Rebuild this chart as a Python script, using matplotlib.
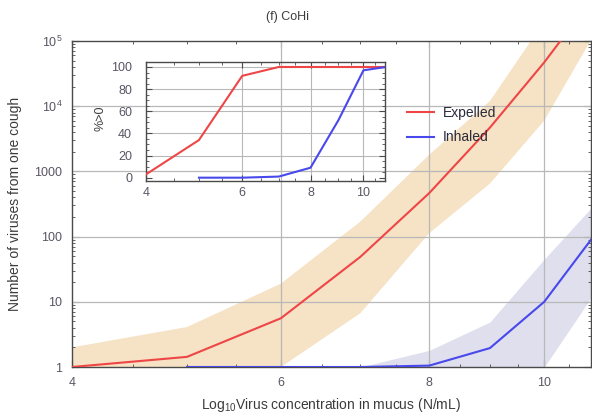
import matplotlib
matplotlib.use("Agg")
import matplotlib.pyplot as plt
import matplotlib.ticker as mticker
from matplotlib.lines import Line2D

plt.rcParams["font.family"] = ["Liberation Sans", "DejaVu Sans"]
plt.rcParams["mathtext.default"] = "regular"

# ── data ────────────────────────────────────────────────────────────────────
conc = [4, 5, 6, 7, 8, 9, 10, 11]
expelled = [1.0, 1.43, 5.6, 49, 465, 4700, 47000, 470000]
expelled_hi = [2.0, 4.1, 19, 170, 1800, 12000, 200000, 2000000]
expelled_lo = [0.5, 0.7, 1.0, 6.7, 113, 650, 6000, 120000]

conc_inh = [5, 6, 7, 8, 9, 10, 11]
inhaled = [1.0, 1.0, 1.0, 1.05, 1.95, 10, 100]
band_inh_x = [7, 8, 9, 10, 11]
inhaled_hi = [1.0, 1.8, 4.9, 45, 300]
inhaled_lo = [1.0, 1.0, 1.0, 1.0, 13]

pct_exp = [3, 34, 92, 100, 100, 100, 100, 100]
pct_inh = [0, 0, 1, 9, 52, 97, 100]

W, H = 592, 415
RED = "#ee4646"
BLUE = "#4848ec"
FRAME = "#4a4a4a"
TICKCOL = "#5a5563"
TEXTCOL = "#3c3c3c"
GRID = "#b8b8b8"


def px_axes(fig, left, top, right, bottom):
    return fig.add_axes([left / W, 1 - bottom / H, (right - left) / W, (bottom - top) / H])


fig = plt.figure(figsize=(W / 100, H / 100), dpi=100)

# ── main panel ──────────────────────────────────────────────────────────────
ax = px_axes(fig, 72, 41, 591, 367)
ax.set_xscale("log")
ax.set_yscale("log")
ax.set_xlim(4, 10.95)
ax.set_ylim(1, 1e5)

ax.fill_between(conc, expelled_lo, expelled_hi, color="#f6e2c4", lw=0, zorder=1)
ax.fill_between(band_inh_x, inhaled_lo, inhaled_hi, color="#dfdfee", lw=0, zorder=1)
ax.plot(conc, expelled, color=RED, lw=1.5, zorder=3)
ax.plot(conc_inh, inhaled, color=BLUE, lw=1.5, zorder=3)

ax.xaxis.set_major_locator(mticker.FixedLocator([4, 6, 8, 10]))
ax.xaxis.set_major_formatter(mticker.FixedFormatter(["4", "6", "8", "10"]))
ax.xaxis.set_minor_locator(mticker.FixedLocator([4.5, 5, 5.5, 6.5, 7, 7.5, 8.5, 9, 9.5, 10.5]))
ax.xaxis.set_minor_formatter(mticker.NullFormatter())
ax.yaxis.set_major_locator(mticker.FixedLocator([1, 10, 100, 1000, 1e4, 1e5]))
ax.yaxis.set_major_formatter(mticker.FixedFormatter(["1", "10", "100", "1000", "$10^4$", "$10^5$"]))
ax.yaxis.set_minor_locator(mticker.LogLocator(base=10, subs=range(2, 10), numticks=20))
ax.yaxis.set_minor_formatter(mticker.NullFormatter())

ax.tick_params(which="both", direction="in", top=True, right=True, colors=FRAME,
               labelcolor=TICKCOL, labelsize=9)
ax.tick_params(which="major", length=5, width=0.8)
ax.tick_params(which="minor", length=2.5, width=0.6)
ax.tick_params(axis="x", pad=7)
ax.tick_params(axis="y", pad=7)
for s in ax.spines.values():
    s.set_color(FRAME)
    s.set_linewidth(1.0)

for gx in [6, 8, 10]:
    ax.axvline(gx, color=GRID, lw=0.9, zorder=2)
for gy in [10, 100, 1000, 1e4]:
    ax.axhline(gy, color=GRID, lw=0.9, zorder=2)

ax.set_xlabel("Log$_{10}$Virus concentration in mucus (N/mL)", color=TEXTCOL,
              fontsize=10, labelpad=5)
ax.set_ylabel("Number of viruses from one cough", color=TEXTCOL, fontsize=10, labelpad=9)

handles = [Line2D([], [], color=RED, lw=1.5), Line2D([], [], color=BLUE, lw=1.5)]
ax.legend(handles, ["Expelled", "Inhaled"], loc="upper left",
          bbox_to_anchor=(407 / W, 1 - 106 / H), bbox_transform=fig.transFigure,
          frameon=False, fontsize=10, handlelength=1.95, handletextpad=0.65,
          labelspacing=0.75, borderpad=0, borderaxespad=0,
          labelcolor="#2a2a3a")

fig.text(287 / W, 1 - 17 / H, "(f) CoHi", ha="center", va="center",
         fontsize=9, color=TEXTCOL)

# ── inset: share of coughs with a non-zero count ────────────────────────────
ins = px_axes(fig, 146, 62, 385, 181)
ins.patch.set_alpha(0)
ins.set_xscale("log")
ins.set_xlim(4, 10.95)
ins.set_ylim(-3, 104.5)
ins.plot(conc, pct_exp, color=RED, lw=1.5, zorder=3)
ins.plot(conc_inh, pct_inh, color=BLUE, lw=1.5, zorder=3)

ins.xaxis.set_major_locator(mticker.FixedLocator([4, 6, 8, 10]))
ins.xaxis.set_major_formatter(mticker.FixedFormatter(["4", "6", "8", "10"]))
ins.xaxis.set_minor_locator(mticker.FixedLocator([4.5, 5, 5.5, 6.5, 7, 7.5, 8.5, 9, 9.5, 10.5]))
ins.xaxis.set_minor_formatter(mticker.NullFormatter())
ins.yaxis.set_major_locator(mticker.FixedLocator([0, 20, 40, 60, 80, 100]))
ins.yaxis.set_minor_locator(mticker.MultipleLocator(5))
ins.tick_params(which="both", direction="in", top=True, right=True, colors=FRAME,
                labelcolor=TICKCOL, labelsize=9)
ins.tick_params(which="major", length=4, width=0.8)
ins.tick_params(which="minor", length=2, width=0.6)
ins.tick_params(axis="x", pad=4)
ins.tick_params(axis="y", pad=10)
for s in ins.spines.values():
    s.set_color(FRAME)
    s.set_linewidth(1.0)
for gx in [6, 8, 10]:
    ins.axvline(gx, color=GRID, lw=0.8, zorder=1)
for gy in [20, 40, 60, 80, 100]:
    ins.axhline(gy, color=GRID, lw=0.8, zorder=1)

fig.text(100 / W, 1 - 118 / H, "%>0", rotation=90, ha="center", va="center",
         fontsize=9, color=TEXTCOL)

fig.savefig("out.png", dpi=100)
